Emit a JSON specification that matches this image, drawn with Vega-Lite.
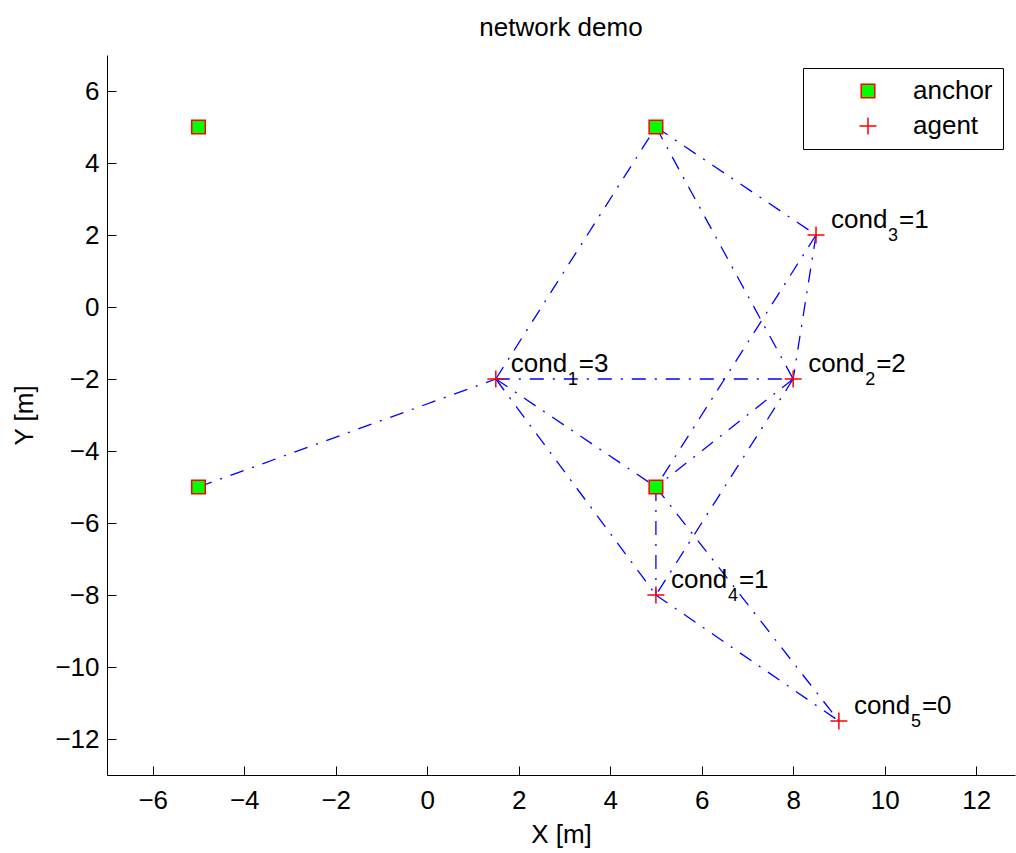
{
  "$schema": "https://vega.github.io/schema/vega-lite/v6.json",
  "width": 908,
  "height": 720,
  "autosize": {"type": "none"},
  "padding": {"left": 107, "top": 55, "right": 1, "bottom": 78},
  "background": "white",
  "title": {"text": "network demo", "fontSize": 26, "fontWeight": "normal", "font": "Liberation Sans", "color": "black", "anchor": "middle", "frame": "group", "baseline": "alphabetic", "offset": -7},
  "datasets": {
    "edges": [
      {"edge": 1, "o": 0, "x": -5, "y": -5}, {"edge": 1, "o": 1, "x": 1.5, "y": -2},
      {"edge": 2, "o": 0, "x": 1.5, "y": -2}, {"edge": 2, "o": 1, "x": 5, "y": 5},
      {"edge": 3, "o": 0, "x": 1.5, "y": -2}, {"edge": 3, "o": 1, "x": 8, "y": -2},
      {"edge": 4, "o": 0, "x": 1.5, "y": -2}, {"edge": 4, "o": 1, "x": 5, "y": -5},
      {"edge": 5, "o": 0, "x": 1.5, "y": -2}, {"edge": 5, "o": 1, "x": 5, "y": -8},
      {"edge": 6, "o": 0, "x": 5, "y": 5}, {"edge": 6, "o": 1, "x": 8.5, "y": 2},
      {"edge": 7, "o": 0, "x": 5, "y": 5}, {"edge": 7, "o": 1, "x": 8, "y": -2},
      {"edge": 8, "o": 0, "x": 8.5, "y": 2}, {"edge": 8, "o": 1, "x": 8, "y": -2},
      {"edge": 9, "o": 0, "x": 8.5, "y": 2}, {"edge": 9, "o": 1, "x": 5, "y": -5},
      {"edge": 10, "o": 0, "x": 8, "y": -2}, {"edge": 10, "o": 1, "x": 5, "y": -5},
      {"edge": 11, "o": 0, "x": 8, "y": -2}, {"edge": 11, "o": 1, "x": 5, "y": -8},
      {"edge": 12, "o": 0, "x": 5, "y": -5}, {"edge": 12, "o": 1, "x": 5, "y": -8},
      {"edge": 13, "o": 0, "x": 5, "y": -5}, {"edge": 13, "o": 1, "x": 9, "y": -11.5},
      {"edge": 14, "o": 0, "x": 5, "y": -8}, {"edge": 14, "o": 1, "x": 9, "y": -11.5}
    ],
    "nodes": [
      {"x": -5, "y": 5, "type": "anchor"},
      {"x": 5, "y": 5, "type": "anchor"},
      {"x": -5, "y": -5, "type": "anchor"},
      {"x": 5, "y": -5, "type": "anchor"},
      {"x": 1.5, "y": -2, "type": "agent"},
      {"x": 8, "y": -2, "type": "agent"},
      {"x": 8.5, "y": 2, "type": "agent"},
      {"x": 5, "y": -8, "type": "agent"},
      {"x": 9, "y": -11.5, "type": "agent"}
    ],
    "labels": [
      {"x": 1.5, "y": -2, "sub": "1", "eq": "=3"},
      {"x": 8, "y": -2, "sub": "2", "eq": "=2"},
      {"x": 8.5, "y": 2, "sub": "3", "eq": "=1"},
      {"x": 5, "y": -8, "sub": "4", "eq": "=1"},
      {"x": 9, "y": -11.5, "sub": "5", "eq": "=0"}
    ]
  },
  "encoding": {
    "x": {"field": "x", "type": "quantitative",
      "scale": {"domain": [-7, 12.85], "nice": false, "zero": false},
      "axis": {"title": "X [m]", "values": [-6, -4, -2, 0, 2, 4, 6, 8, 10, 12], "labelPadding": 21, "titlePadding": 8}},
    "y": {"field": "y", "type": "quantitative",
      "scale": {"domain": [-13, 7], "nice": false, "zero": false},
      "axis": {"title": "Y [m]", "values": [-12, -10, -8, -6, -4, -2, 0, 2, 4, 6], "labelPadding": 17, "titleX": -83, "titleY": 360, "titleBaseline": "middle", "titleAlign": "center"}}
  },
  "layer": [
    {
      "data": {"name": "edges"},
      "mark": {"type": "line", "color": "#0000ff", "strokeWidth": 1.3, "strokeDash": [14, 9, 2, 9]},
      "encoding": {
        "detail": {"field": "edge", "type": "nominal"},
        "order": {"field": "o", "type": "quantitative"}
      }
    },
    {
      "data": {"name": "nodes"},
      "mark": {"type": "point", "size": 289, "strokeWidth": 1.5, "opacity": 1, "filled": false},
      "encoding": {
        "shape": {"field": "type", "type": "nominal",
          "scale": {"domain": ["anchor", "agent"], "range": ["M-0.8,-0.8H0.8V0.8H-0.8Z", "M-1,0H1M0,-1V1"]},
          "legend": {"title": null, "orient": "none", "legendX": 696, "legendY": 13, "labelFontSize": 26, "labelFont": "Liberation Sans", "labelColor": "black", "padding": 10, "strokeColor": "black", "fillColor": "white", "symbolOffset": 42, "labelOffset": 32, "rowPadding": 9, "symbolSize": 289, "symbolStrokeWidth": 1.5, "cornerRadius": 0}},
        "fill": {"field": "type", "type": "nominal",
          "scale": {"domain": ["anchor", "agent"], "range": ["#00ff00", "transparent"]}},
        "stroke": {"field": "type", "type": "nominal",
          "scale": {"domain": ["anchor", "agent"], "range": ["#ff0000", "#ff0000"]}}
      }
    },
    {
      "data": {"name": "labels"},
      "mark": {"type": "text", "align": "left", "baseline": "alphabetic", "dx": 15, "dy": -7, "fontSize": 26, "font": "Liberation Sans", "color": "black"},
      "encoding": {"text": {"value": "cond"}}
    },
    {
      "data": {"name": "labels"},
      "mark": {"type": "text", "align": "left", "baseline": "alphabetic", "dx": 72, "dy": 6, "fontSize": 18, "font": "Liberation Sans", "color": "black"},
      "encoding": {"text": {"field": "sub"}}
    },
    {
      "data": {"name": "labels"},
      "mark": {"type": "text", "align": "left", "baseline": "alphabetic", "dx": 83, "dy": -7, "fontSize": 26, "font": "Liberation Sans", "color": "black"},
      "encoding": {"text": {"field": "eq"}}
    }
  ],
  "config": {
    "view": {"stroke": null},
    "axis": {"grid": false, "domainColor": "black", "domainWidth": 1, "tickColor": "black", "tickSize": -9, "tickWidth": 1, "labelFontSize": 26, "labelFont": "Liberation Sans", "labelColor": "black", "labelOverlap": false, "titleFontSize": 26, "titleFont": "Liberation Sans", "titleFontWeight": "normal", "titleColor": "black"}
  }
}
